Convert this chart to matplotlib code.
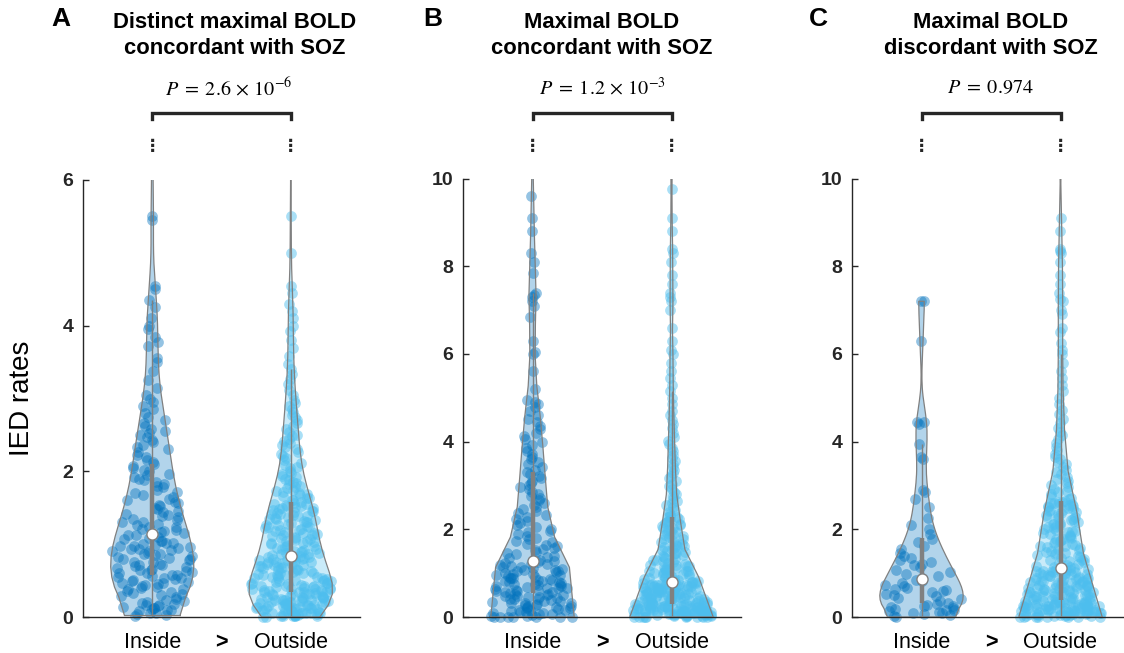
import numpy as np
import matplotlib
matplotlib.use("Agg")
import matplotlib.pyplot as plt
from matplotlib.transforms import blended_transform_factory

# ---------------- data (IED rates) ----------------
group_labels = ["Inside", "Outside"]
panel_letters = ["A", "B", "C"]
panel_titles = [("Distinct maximal BOLD", "concordant with SOZ"),
                ("Maximal BOLD", "concordant with SOZ"),
                ("Maximal BOLD", "discordant with SOZ")]
p_texts = [r"$P\;=\;2.6\,\times\,10^{-6}$", r"$P\;=\;1.2\,\times\,10^{-3}$", r"$P\;=\;0.974$"]
y_label = "IED rates"
y_limits = [6, 10, 10]
y_ticks = [[0, 2, 4, 6], [0, 2, 4, 6, 8, 10], [0, 2, 4, 6, 8, 10]]

a_inside = [0.02,0.03,0.05,0.06,0.08,0.09,0.1,0.11,0.12,0.13,0.14,0.15,0.16,0.17,0.18,0.19,0.2,0.04,
            0.22,0.24,0.25,0.27,0.29,0.3,0.31,0.33,0.35,0.36,0.38,0.39,0.4,0.41,0.42,0.44,0.45,0.46,0.47,0.48,0.5,0.51,0.52,0.53,0.54,0.55,0.56,0.57,
            0.58,0.6,0.61,0.62,0.63,0.64,0.65,0.66,0.67,0.69,0.7,0.71,0.72,0.73,0.75,0.76,0.78,0.79,0.8,0.81,0.82,0.84,0.85,0.86,0.87,0.88,0.9,0.91,0.92,0.93,0.94,0.95,0.96,0.97,0.98,0.99,1.0,1.01,1.02,1.04,1.05,1.07,1.08,1.1,1.12,1.13,
            1.15,1.17,1.18,1.2,1.21,1.23,1.24,1.26,1.28,1.3,1.31,1.33,1.35,1.37,1.39,1.4,1.42,1.44,1.46,1.48,1.5,1.52,1.54,1.56,1.58,1.6,1.62,1.65,1.67,1.7,1.72,1.75,1.78,1.8,1.82,1.85,1.88,1.9,1.92,1.95,1.97,2.0,2.02,2.05,2.08,2.1,
            2.13,2.16,2.2,2.23,2.27,2.3,2.33,2.36,2.4,2.43,2.47,2.5,2.52,2.55,2.58,2.62,2.66,2.7,2.75,2.8,2.85,2.9,2.95,3.0,3.05,3.15,3.25,3.38,3.5,3.55,3.72,3.78,3.85,3.95,4.0,4.1,4.25,4.35,4.5,4.55,5.45,5.5,6.4,7.3,8.9,11.5]

a_outside = [0.00,0.00,0.01,0.01,0.01,0.02,0.02,0.02,0.03,0.03,0.04,0.04,0.05,0.05,0.05,0.06,0.06,0.07,0.07,0.08,0.08,0.09,0.09,0.10,0.10,0.11,0.11,0.12,0.12,0.13,0.13,0.14,0.14,0.15,0.15,0.16,0.16,0.17,0.17,0.18,0.18,0.19,0.19,0.20,0.20,0.21,0.21,0.22,0.22,0.23,0.23,0.24,0.24,0.25,0.25,0.26,0.26,0.27,0.27,0.28,0.28,0.29,0.29,0.30,0.30,0.31,0.31,0.32,0.32,0.33,0.03,0.06,0.12,0.18,0.24,
             0.34,0.34,0.35,0.35,0.36,0.36,0.37,0.37,0.38,0.38,0.39,0.39,0.40,0.40,0.41,0.41,0.42,0.42,0.43,0.43,0.44,0.45,0.45,0.46,0.47,0.47,0.48,0.49,0.49,0.50,0.51,0.51,0.52,0.53,0.53,0.54,0.55,0.55,0.56,0.57,0.58,0.58,0.59,0.60,0.61,0.61,0.62,0.63,0.64,0.64,0.65,0.66,0.67,0.67,0.68,0.69,0.70,0.70,0.71,0.72,0.73,0.73,0.74,0.75,0.76,0.76,0.77,0.78,0.78,0.79,0.80,0.80,0.81,0.82,0.82,
             0.83,0.84,0.85,0.86,0.87,0.88,0.88,0.89,0.90,0.91,0.92,0.93,0.94,0.95,0.96,0.97,0.98,0.99,1.00,1.01,1.02,1.03,1.04,1.05,1.06,1.07,1.08,1.09,1.10,1.11,1.12,1.13,1.14,1.15,1.16,1.17,1.18,1.19,1.20,1.21,1.22,1.23,1.24,1.25,1.26,1.27,1.28,1.29,1.30,1.31,1.32,1.33,1.34,1.35,1.36,1.37,1.38,1.39,1.40,1.41,1.42,1.43,1.44,1.45,1.46,1.47,1.48,1.49,1.50,1.51,1.52,1.53,1.54,1.55,1.55,
             1.57,1.58,1.60,1.61,1.63,1.64,1.66,1.67,1.69,1.70,1.72,1.73,1.75,1.77,1.78,1.80,1.82,1.84,1.86,1.88,1.90,1.92,1.94,1.96,1.98,
             2.01,2.04,2.06,2.09,2.12,2.15,2.18,2.21,2.24,2.27,2.30,2.33,2.36,2.39,2.42,2.45,2.48,2.50,
             2.54,2.58,2.62,2.66,2.70,2.74,2.78,2.82,2.86,2.90,2.94,2.98,
             3.05,3.12,3.20,3.27,3.33,3.40,3.47,3.58,3.70,3.80,3.92,
             4.00,4.10,4.20,4.30,4.45,4.55,5.00,5.50,6.50,8.00,13.0]

b_inside = [0.00,0.00,0.00,0.00,0.00,0.00,0.00,
            0.02,0.03,0.05,0.06,0.07,0.08,0.10,0.11,0.12,0.13,0.15,0.16,0.17,0.18,0.20,0.21,0.22,0.23,0.25,0.26,0.27,0.28,0.30,0.31,0.32,0.33,0.35,0.36,0.37,0.38,0.40,0.41,0.42,0.43,0.45,0.46,0.47,0.48,0.50,0.51,0.52,0.53,0.54,
            0.56,0.57,0.59,0.60,0.61,0.62,0.64,0.65,0.66,0.67,0.69,0.70,0.71,0.72,0.74,0.75,0.76,0.77,0.79,0.80,0.81,0.82,0.84,0.85,0.86,0.88,0.89,0.90,0.92,0.93,0.95,0.96,0.98,0.99,1.01,1.02,1.04,1.05,1.07,1.08,1.10,1.11,1.13,1.14,1.16,1.18,1.20,1.22,1.24,1.26,
            1.28,1.31,1.34,1.37,1.40,1.43,1.46,1.49,1.52,1.55,1.58,1.61,1.64,1.67,1.71,1.74,1.78,1.81,1.85,1.89,1.93,1.97,
            2.01,2.05,2.10,2.14,2.19,2.23,2.28,2.32,2.37,2.41,2.46,2.51,2.56,2.61,2.66,2.71,2.76,2.81,2.86,2.91,2.96,3.01,3.06,3.11,3.16,3.21,3.26,3.30,
            3.36,3.42,3.48,3.54,3.60,3.66,3.72,3.78,3.85,3.92,3.99,4.06,4.13,4.20,4.28,4.36,4.44,4.52,4.60,4.70,4.80,4.85,4.90,4.95,5.20,5.60,6.00,6.05,6.30,6.85,7.10,7.20,7.30,7.35,7.40,7.85,8.10,8.30,8.80,9.10,9.60,
            10.8,11.5,12.6,14.0,16.5,19.0,24.0,33.0,65.0]

b_outside = [0.00,0.00,0.00,0.00,0.00,0.00,0.01,0.01,0.02,0.02,0.03,0.03,0.04,0.04,0.05,0.05,0.06,0.06,0.07,0.07,0.08,0.08,0.09,0.09,0.10,0.10,0.11,0.11,0.12,0.12,0.13,0.13,0.14,0.14,0.15,0.15,0.16,0.16,0.17,0.17,0.18,0.18,0.19,0.19,0.20,0.20,0.21,0.21,0.22,0.22,0.23,0.23,0.24,0.24,0.25,0.25,0.26,0.26,0.27,0.27,0.28,0.28,0.29,0.29,0.30,
             0.01,0.03,0.05,0.07,0.09,0.11,0.13,0.15,0.17,0.19,0.21,0.23,0.25,0.27,0.29,
             0.31,0.31,0.32,0.33,0.33,0.34,0.35,0.36,0.36,0.37,0.38,0.38,0.39,0.40,0.41,0.41,0.42,0.43,0.43,0.44,0.45,0.46,0.46,0.47,0.48,0.48,0.49,0.50,0.51,0.51,0.52,0.53,0.53,0.54,0.55,0.56,0.56,0.57,0.58,0.58,0.59,0.60,0.61,0.61,0.62,0.63,0.63,0.64,0.65,0.66,0.66,0.67,0.68,0.68,0.69,0.70,0.71,0.71,0.72,0.73,0.73,0.74,0.75,0.76,0.76,0.77,0.78,0.78,0.79,0.79,
             0.35,0.40,0.45,0.50,0.55,0.60,0.65,0.70,0.75,0.80,
             0.81,0.82,0.84,0.85,0.86,0.88,0.89,0.90,0.92,0.93,0.94,0.96,0.97,0.98,1.00,1.01,1.02,1.04,1.05,1.06,1.08,1.09,1.10,1.12,1.13,1.14,1.16,1.17,1.18,1.19,
             1.21,1.23,1.25,1.27,1.29,1.31,1.33,1.35,1.37,1.39,1.41,1.43,1.45,1.47,1.49,1.51,1.53,1.55,1.57,1.59,1.61,1.63,1.65,1.67,1.69,
             1.72,1.74,1.77,1.79,1.82,1.84,1.87,1.89,1.92,1.94,1.97,1.99,2.02,2.04,2.07,2.09,2.12,2.14,2.17,2.19,2.22,2.24,2.27,2.29,2.31,
             2.35,2.40,2.45,2.50,2.55,2.60,2.65,2.70,2.75,2.80,2.86,2.92,2.98,3.04,3.10,3.16,3.22,3.28,3.35,3.42,3.49,3.56,3.63,3.70,3.78,3.86,3.94,4.02,4.10,4.20,
             4.30,4.40,4.50,4.60,4.70,4.85,5.00,5.15,5.30,5.45,5.60,5.80,6.00,6.10,6.30,6.60,7.00,7.20,7.30,7.40,7.60,7.80,8.10,8.30,8.40,8.80,9.10,9.75,
             10.2,10.6,11.0,11.5,12.0,12.6,13.3,14.0,15.0,16.2,17.5,19.0,21.0,23.0,26.0,30.0,35.0,42.0,50.0,60.0]

c_inside = [0.00,0.02,0.04,0.06,0.08,0.10,0.12,0.14,0.15,0.17,0.18,0.20,0.22,0.24,0.26,0.28,0.30,
            0.33,0.36,0.40,0.43,0.47,0.50,0.53,0.56,0.59,0.62,0.64,0.66,0.70,0.74,0.78,0.82,0.85,
            0.88,0.93,0.98,1.03,1.08,1.13,1.18,1.22,1.26,1.30,1.35,1.40,1.47,1.55,1.62,1.70,1.78,
            1.90,2.00,2.10,2.25,2.50,2.70,2.85,2.90,3.60,3.65,3.95,4.40,4.45,4.45,6.30,7.20,7.20]

c_outside = [0.00,0.00,0.00,0.00,0.00,0.00,0.01,0.02,0.02,0.03,0.04,0.04,0.05,0.06,0.06,0.07,0.08,0.08,0.09,0.10,0.10,0.11,0.12,0.12,0.13,0.14,0.14,0.15,0.16,0.16,0.17,0.18,0.18,0.19,0.20,0.20,0.21,0.22,0.22,0.23,0.24,0.24,0.25,0.26,0.26,0.27,0.28,0.28,0.29,0.30,0.30,0.31,0.32,0.32,0.33,0.34,0.34,0.35,0.36,0.36,0.37,0.38,0.38,
             0.01,0.03,0.05,0.07,0.09,0.11,0.13,0.15,0.17,0.19,0.21,0.23,0.25,0.27,0.29,0.31,0.33,
             0.40,0.41,0.42,0.43,0.44,0.45,0.46,0.47,0.48,0.49,0.50,0.51,0.52,0.53,0.54,0.55,0.56,0.57,0.58,0.59,0.60,0.61,0.62,0.63,0.64,0.65,0.66,0.67,0.68,0.69,0.70,0.71,0.72,0.73,0.74,0.75,0.76,0.77,0.78,0.79,0.80,0.81,0.82,0.83,0.84,0.85,0.86,0.87,0.88,0.89,0.90,0.91,0.92,0.93,0.94,0.95,0.96,0.97,0.98,0.99,1.00,1.01,1.02,1.03,1.04,1.05,1.06,1.07,1.08,1.09,1.10,1.11,
             0.42,0.47,0.52,0.57,0.62,0.67,0.72,0.77,
             1.13,1.15,1.17,1.19,1.21,1.23,1.25,1.27,1.29,1.31,1.33,1.35,1.37,1.39,1.41,1.43,1.45,1.47,1.49,1.51,1.53,1.55,1.57,1.59,1.61,1.63,1.65,1.67,1.69,1.71,
             1.73,1.75,1.77,1.79,1.81,1.83,1.85,1.87,1.89,1.91,1.93,1.95,1.97,1.99,2.01,2.03,2.05,2.07,2.09,2.11,2.13,2.15,2.17,2.19,2.21,2.23,2.25,2.27,2.29,2.31,
             2.33,2.35,2.37,2.39,2.41,2.43,2.45,2.47,2.49,2.51,2.52,2.54,2.55,2.57,2.58,2.60,2.61,2.62,2.63,2.64,
             2.68,2.72,2.76,2.80,2.84,2.88,2.92,2.96,3.00,3.05,3.10,3.15,3.20,3.25,3.30,3.36,3.42,3.48,3.54,3.60,
             3.66,3.72,3.80,3.88,3.96,4.05,4.14,4.23,4.32,4.42,4.52,4.62,4.72,4.85,5.00,5.15,5.30,5.45,5.60,5.80,
             6.00,6.10,6.25,6.50,6.60,6.90,7.00,7.20,7.25,7.40,7.60,7.80,8.10,8.30,8.35,8.40,8.80,9.10,
             10.3,10.8,11.4,12.0,12.8,13.6,14.5,15.6,17.0,18.5,20.5,23.0,26.0,30.0,35.0,40.0,46.0,52.0,60.0,70.0,80.0,90.0]

panel_data = [(a_inside, a_outside), (b_inside, b_outside), (c_inside, c_outside)]

# ---------------- style ----------------
W, H = 1124, 653
plt.rcParams['font.family'] = ['Liberation Sans', 'DejaVu Sans']
plt.rcParams['mathtext.fontset'] = 'stix'
INK = '#262626'
GRAY = (0.5, 0.5, 0.5)
colors = [(0.0, 0.447, 0.741), (0.301, 0.745, 0.933)]
point_alpha = [0.42, 0.48]
axes_px = [(83, 360, 180, 617), (463, 741, 178.5, 617), (852, 1130, 178.5, 617)]
title_cx = [235, 602, 991]
p_cx = [229, 602, 990]
letter_cx = [61, 433, 818]

fig = plt.figure(figsize=(W / 100, H / 100), dpi=100)


def violin_shape(vals):
    x = np.asarray(vals, float)
    n = len(x)
    sig = np.median(np.abs(x - np.median(x))) / 0.6745
    bw = sig * (4.0 / (3.0 * n)) ** 0.2
    grid = np.linspace(x.min() - 3 * bw, x.max() + 3 * bw, 100)
    dens = np.exp(-0.5 * ((grid[:, None] - x[None, :]) / bw) ** 2).sum(1) / (n * bw * np.sqrt(2 * np.pi))
    keep = (grid >= x.min()) & (grid <= x.max())
    v = grid[keep].copy()
    d = dens[keep]
    v[0] = x.min()
    v[-1] = x.max()
    return v, d


def jitter(n, salt):
    # deterministic hash-based scatter offsets in [-1, 1]
    i = np.arange(n, dtype=float)
    h = np.sin(i * 12.9898 + salt * 78.233) * 43758.5453
    return 2 * (h - np.floor(h)) - 1


for k in range(3):
    l, r, t, b = axes_px[k]
    ax = fig.add_axes([l / W, 1 - b / H, (r - l) / W, (b - t) / H])
    ymax = y_limits[k]
    ax.set_xlim(0.5, 2.5)
    ax.set_ylim(0, ymax)
    for gi, vals in enumerate(panel_data[k]):
        pos = gi + 1
        x = np.asarray(vals, float)
        v, d = violin_shape(x)
        w = 0.3 / d.max()
        jit = jitter(len(x), 3 * k + gi + 1)
        strength = np.interp(x, v, d * w)
        xs = pos + jit * strength
        vis = x <= ymax
        ax.scatter(xs[vis], x[vis], s=60, color=colors[gi], alpha=point_alpha[gi],
                   linewidths=0, zorder=2, clip_on=False)
        ax.fill(np.concatenate([pos + d * w, (pos - d * w)[::-1]]),
                np.concatenate([v, v[::-1]]),
                facecolor=colors[gi], alpha=0.3, edgecolor='none', zorder=1)
        ax.plot(np.concatenate([pos + d * w, (pos - d * w)[::-1], [pos + d[0] * w]]),
                np.concatenate([v, v[::-1], [v[0]]]),
                color=GRAY, lw=0.9, zorder=3)
        q1, med, q3 = np.percentile(x, [25, 50, 75])
        iqr = q3 - q1
        lo = max(q1 - 1.5 * iqr, x[x >= q1 - 1.5 * iqr].min())
        hi = min(q3 + 1.5 * iqr, x[x <= q3 + 1.5 * iqr].max())
        ax.plot([pos, pos], [lo, hi], color=GRAY, lw=1.0, zorder=4, solid_capstyle='butt')
        ax.plot([pos, pos], [q1, q3], color=GRAY, lw=3.2, zorder=5, solid_capstyle='butt')
        ax.plot([pos], [med], marker='o', ms=8, mfc='white', mec=GRAY, mew=1.0, zorder=6)

    for s in ['top', 'right']:
        ax.spines[s].set_visible(False)
    for s in ['left', 'bottom']:
        ax.spines[s].set_color(INK)
        ax.spines[s].set_linewidth(1.0)
    ax.set_yticks(y_ticks[k])
    ax.set_yticklabels([str(v) for v in y_ticks[k]], fontweight='bold', fontsize=14, color=INK)
    ax.tick_params(axis='y', direction='in', length=4, width=1, color=INK, pad=7)
    ax.set_xticks([1, 1.5, 2])
    ax.set_xticklabels([group_labels[0], '>', group_labels[1]], fontsize=15.5, color='black')
    ax.get_xticklabels()[1].set_fontweight('bold')
    ax.tick_params(axis='x', length=0, pad=11)
    ax.patch.set_visible(False)

    tr = blended_transform_factory(ax.transData, ax.transAxes)
    fy = lambda ypx: (b - ypx) / (b - t)
    ax.plot([1, 1, 2, 2], [fy(119), fy(113), fy(113), fy(119)], color=INK, lw=2.4,
            transform=tr, clip_on=False, solid_joinstyle='miter')
    for pos in (1, 2):
        ax.text(pos, fy(146), '\u22ee', transform=tr, ha='center', va='center',
                fontsize=12.5, fontweight='bold', color=INK, family='DejaVu Sans')
    fig.text(p_cx[k] / W, 1 - 88 / H, p_texts[k], ha='center', va='center', fontsize=14.5)
    fig.text(title_cx[k] / W, 1 - 23 / H, panel_titles[k][0], ha='center', va='center',
             fontsize=15.8, fontweight='bold')
    fig.text(title_cx[k] / W, 1 - 49 / H, panel_titles[k][1], ha='center', va='center',
             fontsize=15.8, fontweight='bold')
    fig.text(letter_cx[k] / W, 1 - 19 / H, panel_letters[k], ha='center', va='center',
             fontsize=19, fontweight='bold')

fig.text(22 / W, 1 - 398 / H, y_label, rotation=90, ha='center', va='center', fontsize=20)

fig.savefig('out.png', dpi=100)
